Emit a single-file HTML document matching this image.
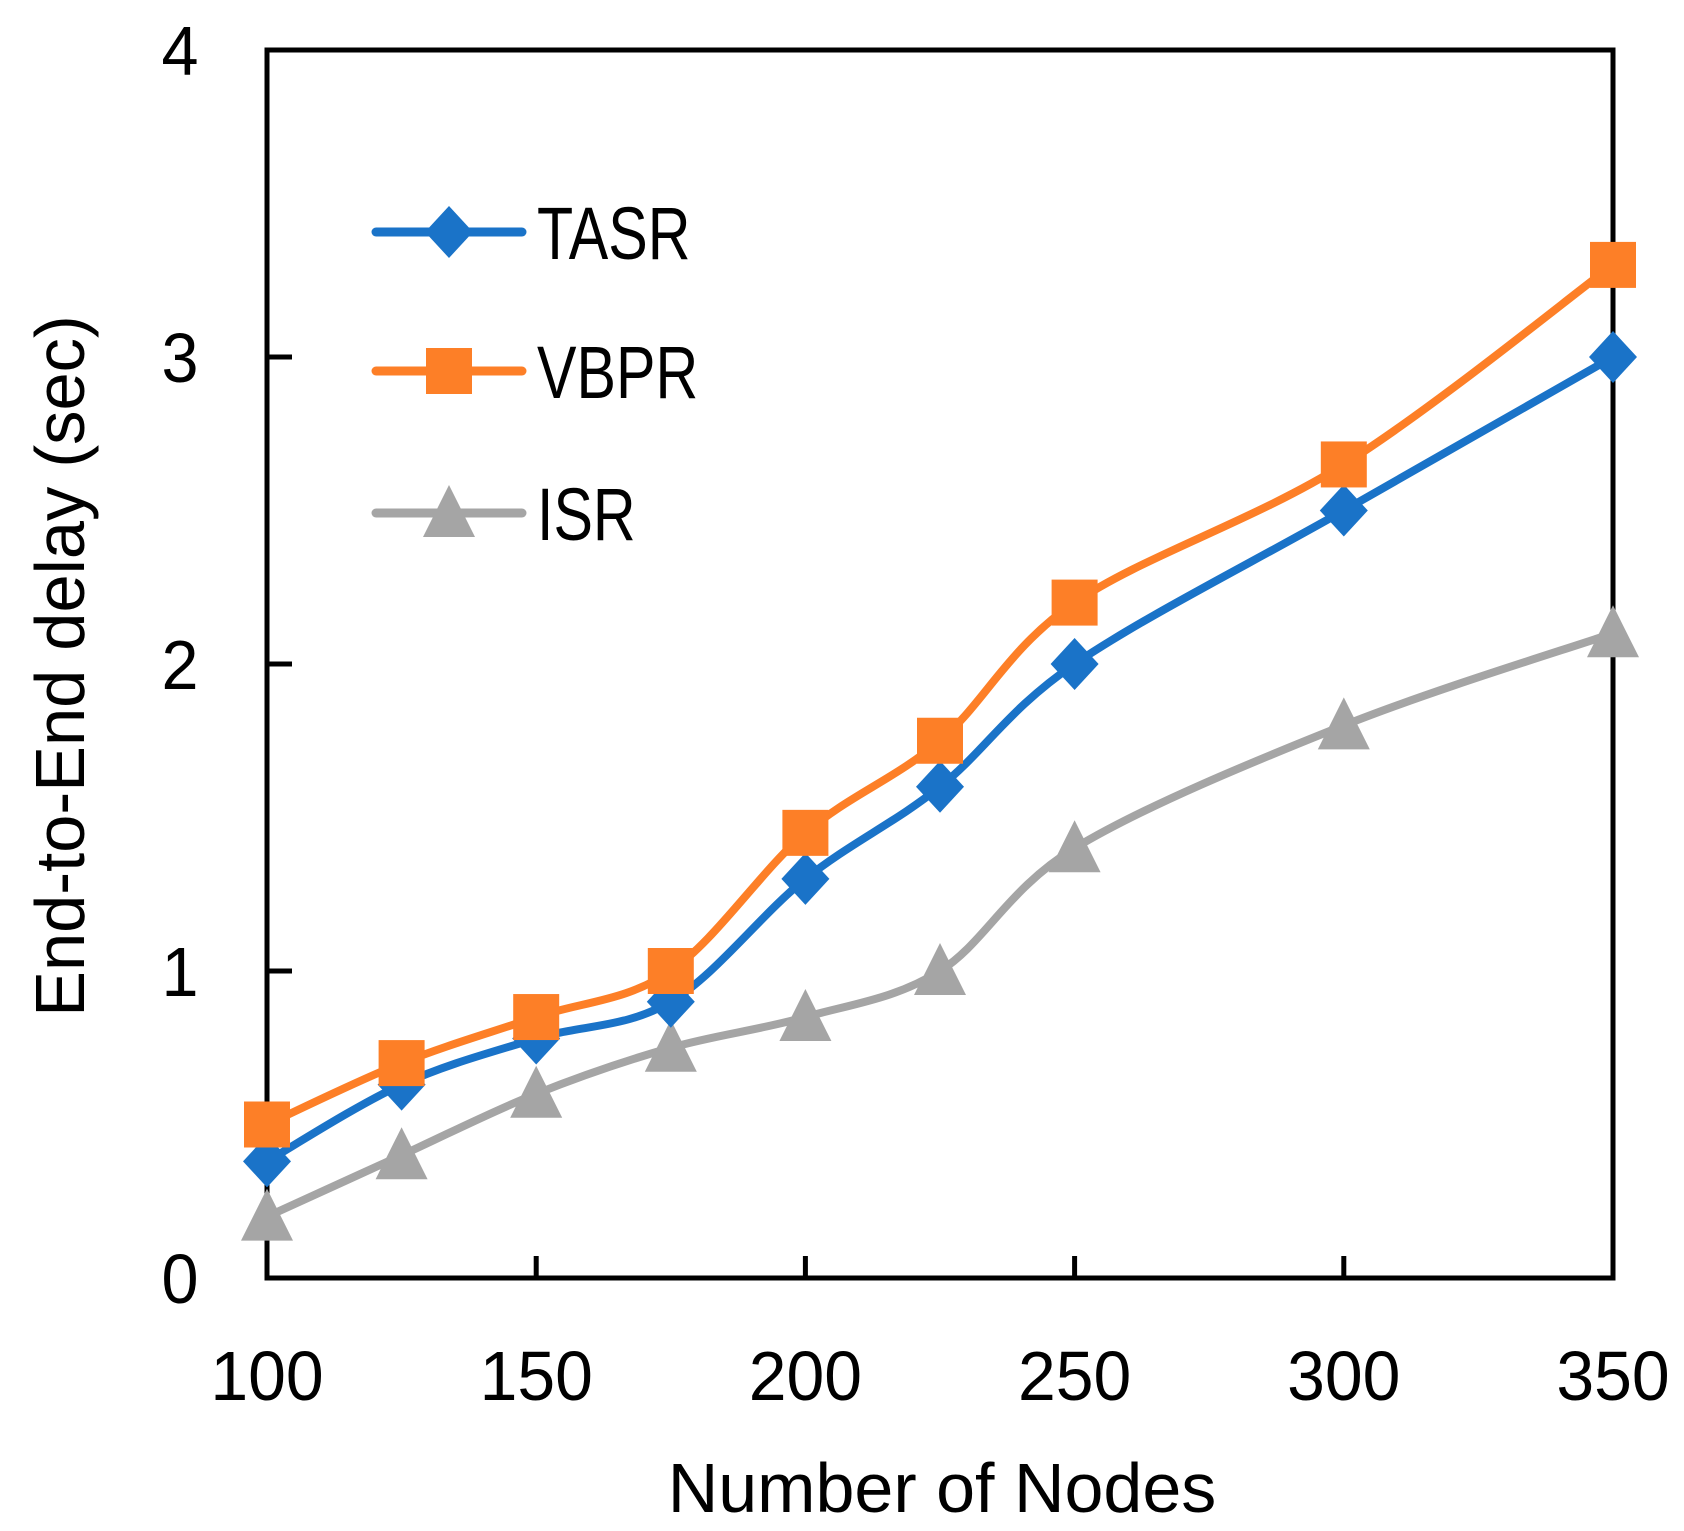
<!DOCTYPE html>
<html><head><meta charset="utf-8"><style>
html,body{margin:0;padding:0;background:#fff;width:1684px;height:1531px;overflow:hidden}
text{font-family:"Liberation Sans",sans-serif;fill:#000}
</style></head><body>
<svg id="chart" width="1684" height="1531" xmlns="http://www.w3.org/2000/svg"></svg>
<script>
const categories=[100,125,150,175,200,225,250,300,350];
const tasr=[0.38,0.63,0.78,0.9,1.3,1.6,2.0,2.5,3.0];
const vbpr=[0.5,0.7,0.85,1.0,1.45,1.75,2.2,2.65,3.3];
const isr=[0.2,0.4,0.6,0.75,0.85,1.0,1.4,1.8,2.1];
const xTicks=[100,150,200,250,300,350];
const yTicks=[0,1,2,3,4];
const NS='http://www.w3.org/2000/svg';
const svg=document.getElementById('chart');
const L=267,R=1613,T=50,B=1278;
const xs=v=>L+(v-100)/250*(R-L);
const ys=v=>B-v/4*(B-T);
function mk(tag,attrs,parent){const e=document.createElementNS(NS,tag);for(const k in attrs)e.setAttribute(k,attrs[k]);(parent||svg).appendChild(e);return e;}
function txt(str,x,y,size,anchor,extra,sx,parent){
  const t=mk('text',{x:0,y:0,'text-anchor':anchor,'font-size':size,transform:`translate(${x},${y}) ${extra||''} scale(${sx},1)`},parent);
  t.textContent=str;return t;
}
const frame=mk('rect',{x:L,y:T,width:R-L,height:B-T,fill:'none',stroke:'#000','stroke-width':5});


yTicks.forEach(v=>{
  const t=mk('line',{x1:L,x2:L+25,y1:ys(v),y2:ys(v),stroke:'#000','stroke-width':5});
  
  
  const lb=txt(String(v),180,ys(v)+25,70,'middle','',0.95);
  
  
});
xTicks.forEach(v=>{
  const t=mk('line',{x1:xs(v),x2:xs(v),y1:B,y2:B-22,stroke:'#000','stroke-width':5});
  
  
  const lb=txt(String(v),xs(v),1400,70,'middle','',0.97);
  
  
});
const xt=txt('Number of Nodes',942,1512,70,'middle','',1.0);


const yt=txt('End-to-End delay (sec)',84,666,70,'middle','rotate(-90)',0.98);


function smooth(pts){
  let d=`M${pts[0][0]},${pts[0][1]}`;
  for(let i=0;i<pts.length-1;i++){
    const p0=pts[i-1]||pts[i],p1=pts[i],p2=pts[i+1],p3=pts[i+2]||p2;
    const k=1/6;
    d+=` C${p1[0]+(p2[0]-p0[0])*k},${p1[1]+(p2[1]-p0[1])*k} ${p2[0]-(p3[0]-p1[0])*k},${p2[1]-(p3[1]-p1[1])*k} ${p2[0]},${p2[1]}`;
  }
  return d;
}
function marker(kind,cx,cy,color,g){
  if(kind==='diamond')return mk('polygon',{points:`${cx},${cy-26} ${cx+24},${cy} ${cx},${cy+26} ${cx-24},${cy}`,fill:color},g);
  if(kind==='square')return mk('rect',{x:cx-23,y:cy-23,width:46,height:46,fill:color},g);
  return mk('polygon',{points:`${cx},${cy-28} ${cx+26},${cy+24} ${cx-26},${cy+24}`,fill:color},g);
}
const series=[['isr',isr,'#a5a5a5','triangle'],['tasr',tasr,'#1a73c8','diamond'],['vbpr',vbpr,'#fd7f27','square']];
series.forEach(([name,vals,color,kind])=>{
  const g=mk('g',{});
  
  
  const pts=vals.map((v,i)=>[xs(categories[i]),ys(v)]);
  const pl=mk('path',{d:smooth(pts),fill:'none',stroke:color,'stroke-width':8,'stroke-linejoin':'round'},g);
  
  
  pts.forEach(p=>{
    const m=marker(kind,p[0],p[1],color,g);
    
    
  });
});
const legend=[['TASR','#1a73c8','diamond',232],['VBPR','#fd7f27','square',371],['ISR','#a5a5a5','triangle',513]];
legend.forEach(([lbl,color,kind,y])=>{
  const g=mk('g',{});
  
  
  mk('line',{x1:376,x2:522,y1:y,y2:y,stroke:color,'stroke-width':9,'stroke-linecap':'round'},g);
  marker(kind,449,y,color,g);
  txt(lbl,537,y+27,74,'start','',0.8,g);
});
</script>
</body></html>
